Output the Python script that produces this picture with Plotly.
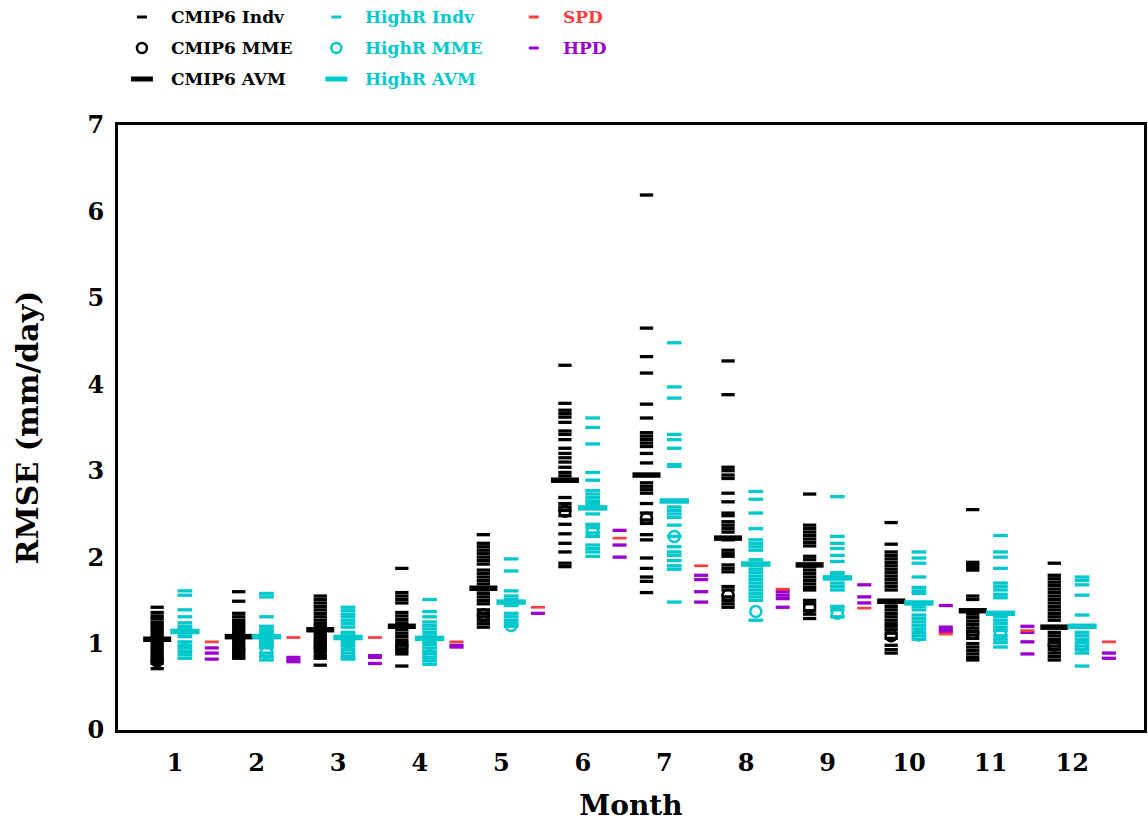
import plotly.graph_objects as go

months = list(range(1, 13))
month_labels = [str(m) for m in months]

cmip6_indv = [
    [1.42, 1.36, 1.32, 1.29, 1.25, 1.22, 1.19, 1.16, 1.13, 1.10, 1.07, 1.04, 1.01, 0.98, 0.95, 0.92, 0.89, 0.86, 0.83, 0.80, 0.77, 0.71],
    [1.60, 1.49, 1.35, 1.31, 1.27, 1.24, 1.21, 1.18, 1.15, 1.12, 1.09, 1.06, 1.03, 1.00, 0.97, 0.94, 0.91, 0.88, 0.85, 0.83],
    [1.55, 1.51, 1.47, 1.43, 1.39, 1.35, 1.31, 1.27, 1.23, 1.20, 1.17, 1.14, 1.11, 1.08, 1.05, 1.02, 0.99, 0.96, 0.93, 0.90, 0.86, 0.83, 0.75],
    [1.87, 1.59, 1.55, 1.51, 1.47, 1.36, 1.32, 1.28, 1.24, 1.20, 1.16, 1.12, 1.08, 1.04, 1.01, 0.98, 0.94, 0.91, 0.88, 0.74],
    [2.26, 2.16, 2.12, 2.08, 2.04, 2.00, 1.96, 1.92, 1.85, 1.81, 1.77, 1.73, 1.69, 1.62, 1.58, 1.54, 1.50, 1.46, 1.39, 1.35, 1.31, 1.27, 1.23, 1.19],
    [4.22, 3.78, 3.70, 3.66, 3.62, 3.56, 3.46, 3.42, 3.36, 3.26, 3.20, 3.15, 3.10, 3.04, 2.98, 2.94, 2.69, 2.62, 2.58, 2.54, 2.48, 2.38, 2.27, 2.16, 2.06, 1.93, 1.89],
    [6.19, 4.65, 4.32, 4.13, 3.77, 3.61, 3.44, 3.40, 3.36, 3.32, 3.28, 3.20, 3.09, 2.86, 2.82, 2.78, 2.74, 2.62, 2.51, 2.43, 2.39, 2.26, 2.20, 1.99, 1.87, 1.77, 1.72, 1.59],
    [4.27, 3.88, 3.04, 3.00, 2.95, 2.91, 2.74, 2.64, 2.51, 2.48, 2.41, 2.37, 2.33, 2.29, 2.20, 2.08, 2.04, 2.01, 1.91, 1.87, 1.83, 1.66, 1.62, 1.54, 1.50, 1.46, 1.42],
    [2.73, 2.37, 2.33, 2.29, 2.25, 2.21, 2.17, 2.13, 2.01, 1.97, 1.89, 1.85, 1.81, 1.77, 1.73, 1.69, 1.65, 1.62, 1.50, 1.46, 1.38, 1.34, 1.29],
    [2.40, 2.15, 2.06, 2.02, 1.98, 1.94, 1.90, 1.86, 1.82, 1.78, 1.74, 1.70, 1.66, 1.62, 1.47, 1.43, 1.39, 1.35, 1.31, 1.27, 1.23, 1.20, 1.16, 1.12, 1.06, 0.98, 0.93, 0.89],
    [2.55, 1.94, 1.91, 1.88, 1.85, 1.55, 1.51, 1.34, 1.30, 1.26, 1.22, 1.18, 1.14, 1.10, 1.06, 1.00, 0.96, 0.92, 0.88, 0.84, 0.81],
    [1.93, 1.79, 1.75, 1.71, 1.67, 1.63, 1.59, 1.55, 1.51, 1.47, 1.43, 1.39, 1.35, 1.31, 1.27, 1.13, 1.09, 1.05, 1.01, 0.97, 0.93, 0.89, 0.85, 0.81],
]
cmip6_mme = [0.80, 0.93, 0.95, 0.97, 1.33, 2.53, 2.45, 1.56, 1.42, 1.09, 1.12, 0.98]
cmip6_avm = [1.05, 1.08, 1.16, 1.20, 1.64, 2.89, 2.95, 2.22, 1.91, 1.49, 1.38, 1.19]

highr_indv = [
    [1.61, 1.56, 1.39, 1.31, 1.24, 1.20, 1.17, 1.12, 1.08, 1.02, 0.98, 0.95, 0.91, 0.87, 0.83],
    [1.58, 1.54, 1.31, 1.20, 1.16, 1.13, 1.10, 1.04, 1.01, 0.98, 0.95, 0.89, 0.85, 0.81],
    [1.42, 1.38, 1.34, 1.31, 1.27, 1.23, 1.19, 1.13, 1.09, 1.03, 1.00, 0.97, 0.93, 0.89, 0.85, 0.82],
    [1.51, 1.37, 1.31, 1.25, 1.21, 1.17, 1.13, 1.09, 1.05, 1.02, 0.99, 0.95, 0.91, 0.88, 0.84, 0.80, 0.76],
    [1.98, 1.84, 1.61, 1.55, 1.51, 1.47, 1.44, 1.35, 1.31, 1.27, 1.23, 1.20],
    [3.61, 3.50, 3.31, 2.98, 2.89, 2.77, 2.73, 2.69, 2.65, 2.62, 2.50, 2.38, 2.34, 2.28, 2.24, 2.14, 2.10, 2.06, 2.01],
    [4.48, 3.97, 3.84, 3.42, 3.36, 3.26, 3.07, 3.05, 2.58, 2.54, 2.50, 2.46, 2.37, 2.24, 2.12, 2.06, 2.02, 1.96, 1.90, 1.86, 1.48],
    [2.76, 2.67, 2.51, 2.33, 2.20, 2.16, 2.12, 2.08, 1.97, 1.90, 1.86, 1.82, 1.78, 1.74, 1.70, 1.66, 1.62, 1.58, 1.54, 1.50, 1.27],
    [2.70, 2.24, 2.16, 2.10, 2.02, 1.95, 1.82, 1.79, 1.75, 1.70, 1.66, 1.62, 1.43, 1.39, 1.31],
    [2.06, 1.99, 1.93, 1.77, 1.65, 1.61, 1.58, 1.43, 1.39, 1.33, 1.29, 1.25, 1.21, 1.17, 1.13, 1.09, 1.05],
    [2.25, 2.06, 2.00, 1.87, 1.70, 1.66, 1.62, 1.57, 1.53, 1.31, 1.27, 1.23, 1.19, 1.15, 1.09, 1.05, 1.01, 0.96],
    [1.77, 1.73, 1.68, 1.56, 1.33, 1.13, 1.09, 1.05, 1.01, 0.97, 0.93, 0.89, 0.74],
]
highr_mme = [0.93, 0.90, 0.90, 0.86, 1.21, 2.30, 2.24, 1.37, 1.35, 1.10, 1.12, 0.98]
highr_avm = [1.14, 1.08, 1.07, 1.06, 1.48, 2.57, 2.65, 1.92, 1.76, 1.47, 1.35, 1.20]

spd = [1.02, 1.07, 1.07, 1.02, 1.42, 2.22, 1.90, 1.63, 1.41, 1.11, 1.15, 1.02]
hpd = [
    [0.95, 0.89, 0.82],
    [0.84, 0.81, 0.79],
    [0.86, 0.84, 0.77],
    [0.98, 0.96],
    [1.35],
    [2.31, 2.14, 2.00],
    [1.79, 1.74, 1.60, 1.48],
    [1.60, 1.56, 1.52, 1.42],
    [1.68, 1.54, 1.47],
    [1.44, 1.19, 1.16, 1.14],
    [1.20, 1.13, 1.02, 0.88],
    [0.89, 0.83],
]

BLACK = "#000000"
CYAN = "#00C8CC"
RED = "#FF3C3C"
PURPLE = "#9A00CF"

OFF_C, OFF_H, OFF_P = -0.22, 0.12, 0.45


def flat(groups, off):
    xs, ys = [], []
    for m, vals in zip(months, groups):
        for v in vals:
            xs.append(m + off)
            ys.append(v)
    return xs, ys


def dash_trace(xs, ys, color, size, width):
    return go.Scatter(x=xs, y=ys, mode="markers", showlegend=False, hoverinfo="skip",
                      marker=dict(symbol="line-ew", size=size, color=color,
                                  line=dict(color=color, width=width)))


def circ_trace(xs, ys, color):
    return go.Scatter(x=xs, y=ys, mode="markers", showlegend=False, hoverinfo="skip",
                      marker=dict(symbol="circle-open", size=11, color=color,
                                  line=dict(color=color, width=2.5)))


# line-ew marker length is 1.4 x size in plotly
fig = go.Figure()
x, y = flat(cmip6_indv, OFF_C)
fig.add_trace(dash_trace(x, y, BLACK, 9.5, 3.3))
x, y = flat(highr_indv, OFF_H)
fig.add_trace(dash_trace(x, y, CYAN, 10.5, 3.3))
x, y = flat(hpd, OFF_P)
fig.add_trace(dash_trace(x, y, PURPLE, 10, 3.3))
fig.add_trace(dash_trace([m + OFF_P for m in months], spd, RED, 10, 2.7))
fig.add_trace(circ_trace([m + OFF_C for m in months], cmip6_mme, BLACK))
fig.add_trace(circ_trace([m + OFF_H for m in months], highr_mme, CYAN))
fig.add_trace(dash_trace([m + OFF_C for m in months], cmip6_avm, BLACK, 20, 5.5))
fig.add_trace(dash_trace([m + OFF_H for m in months], highr_avm, CYAN, 21, 5.5))

W, H = 1148, 823
L, R, T, B = 118, 1, 125, 93
PW, PH = W - L - R, H - T - B


def px(xp):
    return (xp - L) / PW


def py(yp):
    return (H - B - yp) / PH


FONT = "DejaVu Serif"
shapes = []
annotations = []
legend_items = [
    ("CMIP6 Indv", BLACK, "dash", 142, 17),
    ("CMIP6 MME", BLACK, "circle", 142, 48),
    ("CMIP6 AVM", BLACK, "avm", 142, 79),
    ("HighR Indv", CYAN, "dash", 337, 17),
    ("HighR MME", CYAN, "circle", 337, 48),
    ("HighR AVM", CYAN, "avm", 337, 79),
    ("SPD", RED, "dash", 535, 17),
    ("HPD", PURPLE, "dash", 535, 48),
]
for name, col, kind, cx, cy in legend_items:
    if kind == "dash":
        shapes.append(dict(type="line", xref="paper", yref="paper", x0=px(cx - 5), x1=px(cx + 5),
                           y0=py(cy), y1=py(cy), line=dict(color=col, width=3)))
    elif kind == "avm":
        shapes.append(dict(type="line", xref="paper", yref="paper", x0=px(cx - 11), x1=px(cx + 11),
                           y0=py(cy), y1=py(cy), line=dict(color=col, width=5)))
    else:
        shapes.append(dict(type="circle", xref="paper", yref="paper", x0=px(cx - 5), x1=px(cx + 5),
                           y0=py(cy - 5), y1=py(cy + 5), line=dict(color=col, width=2.5)))
    annotations.append(dict(text=name, xref="paper", yref="paper", x=px(cx + 27), y=py(cy),
                            xanchor="left", yanchor="middle", showarrow=False,
                            font=dict(family=FONT, size=17, color=col, weight="bold")))

fig.update_layout(
    width=W, height=H,
    margin=dict(l=L, r=R, t=T, b=B),
    plot_bgcolor="white", paper_bgcolor="white",
    shapes=shapes, annotations=annotations,
    showlegend=False,
    xaxis=dict(range=[0.3, 12.88], tickvals=months, ticktext=month_labels,
               showline=True, linecolor="black", linewidth=3, mirror=True,
               showgrid=False, zeroline=False, ticks="", ticklabelstandoff=9,
               tickfont=dict(family=FONT, size=24, color="black", weight="bold"),
               title=dict(text="Month", standoff=20,
                          font=dict(family=FONT, size=28, color="black", weight="bold"))),
    yaxis=dict(range=[0, 7], dtick=1, tick0=0,
               showline=True, linecolor="black", linewidth=3, mirror=True,
               showgrid=False, zeroline=False, ticks="", ticklabelstandoff=6,
               tickfont=dict(family=FONT, size=24, color="black", weight="bold"),
               title=dict(text="RMSE (mm/day)", standoff=40,
                          font=dict(family=FONT, size=30, color="black", weight="bold"))),
)

fig.write_html("out.html")
